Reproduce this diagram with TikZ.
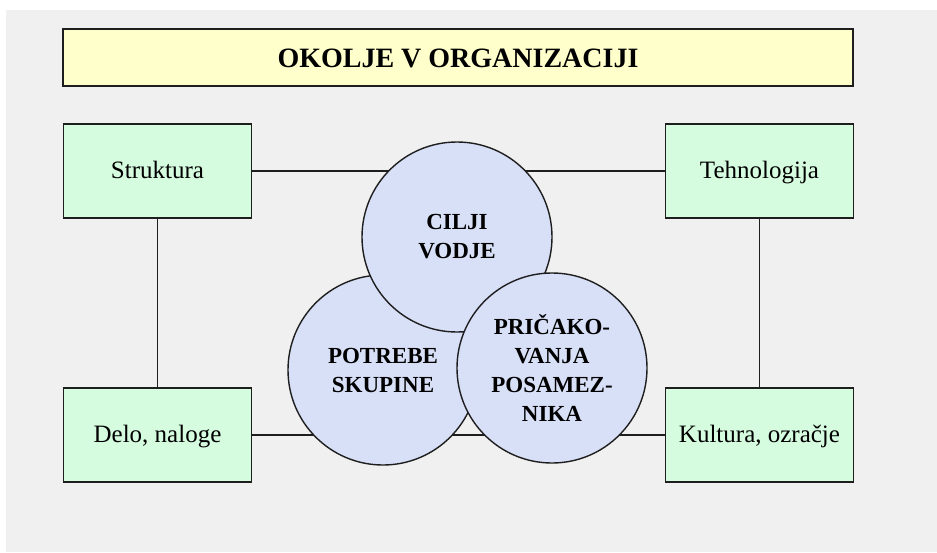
\documentclass[tikz,border=0pt]{standalone}
\usepackage{fontspec}
\setmainfont{Liberation Serif}
\definecolor{pagebg}{HTML}{F0F0F0}
\definecolor{titlefill}{HTML}{FFFFCC}
\definecolor{boxfill}{HTML}{D6FCDF}
\definecolor{circfill}{HTML}{D8E0F8}
\definecolor{edge}{HTML}{1E1E1E}
\begin{document}
\begin{tikzpicture}[x=1pt,y=-1pt,
  link/.style={draw=edge,line width=1.6pt},
  titlebox/.style={draw=edge,line width=1.8pt,fill=titlefill,minimum width=790pt,minimum height=57pt,inner sep=0pt,text height=19pt,text depth=0pt,font=\fontsize{28}{30}\selectfont\bfseries},
  areabox/.style={draw=edge,line width=1.8pt,fill=boxfill,minimum width=188pt,minimum height=94pt,inner sep=0pt,text height=18pt,text depth=4pt,font=\fontsize{25}{28}\selectfont},
  factor/.style={circle,draw=edge,line width=1.4pt,fill=circfill,minimum size=190pt,inner sep=0pt,align=center,font=\fontsize{23}{29}\selectfont\bfseries}]
  \useasboundingbox (0,0) rectangle (937,552);
  % page background
  \fill[white] (0,0) rectangle (937,552);
  \fill[pagebg] (6,10) rectangle (937,552);

  % heading
  \node[titlebox] (title) at (458,57.5) {OKOLJE V ORGANIZACIJI};

  % corner boxes (placed first so the links can refer to them)
  \path (157.5,171) node[areabox] (strukt) {Struktura}
        (759.5,171) node[areabox] (tehno) {Tehnologija}
        (157.5,435) node[areabox] (delo) {Delo, naloge}
        (759.5,435) node[areabox] (kult) {Kultura, ozračje};

  % links between the corner boxes
  \draw[link] (strukt) -- (tehno);
  \draw[link] (delo) -- (kult);
  \draw[link] (strukt) -- (delo);
  \draw[link] (tehno) -- (kult);

  % three overlapping circles
  \node[factor] (skup) at (383,370) {POTREBE\\SKUPINE};
  \node[factor] (vodja) at (457,237) {CILJI\\VODJE};
  \node[factor] (posam) at (552,368) {PRIČAKO-\\VANJA\\POSAMEZ-\\NIKA};

  % redraw the boxes on top of the link ends
  \path (157.5,171) node[areabox] {Struktura}
        (759.5,171) node[areabox] {Tehnologija}
        (157.5,435) node[areabox] {Delo, naloge}
        (759.5,435) node[areabox] {Kultura, ozračje};
\end{tikzpicture}
\end{document}
